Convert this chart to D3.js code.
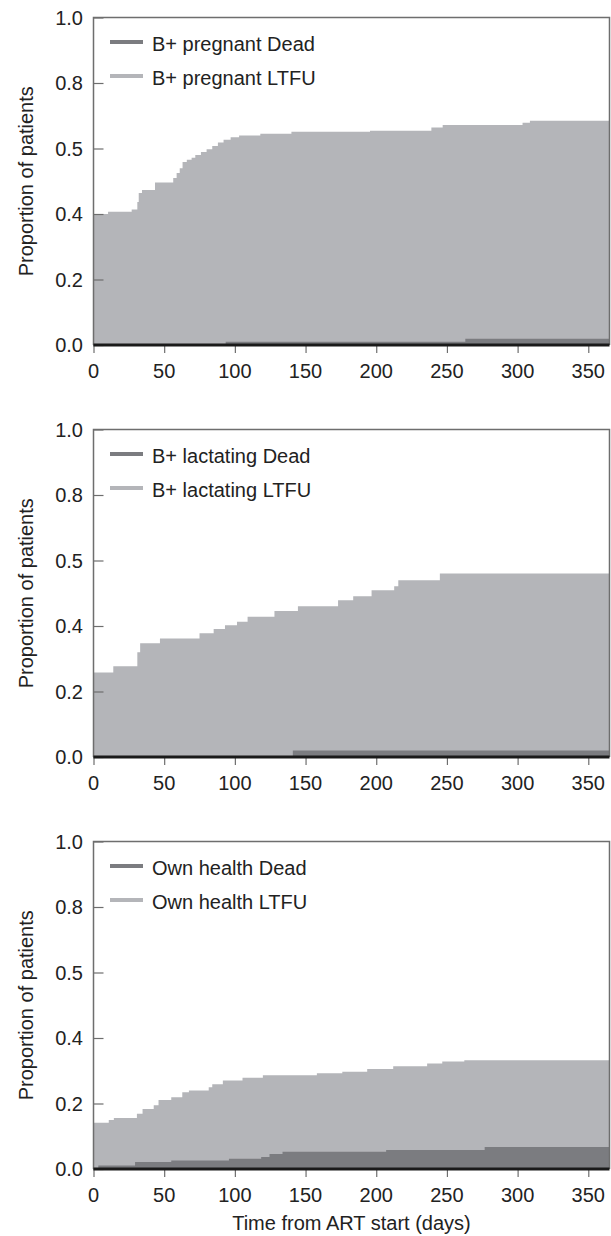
<!DOCTYPE html>
<html>
<head>
<meta charset="utf-8">
<script src="https://cdn.jsdelivr.net/npm/d3@7"></script>
<style>
  body { margin: 0; background: #fff; }
  text { font-family: "Liberation Sans", Arial, sans-serif; fill: #222; }
</style>
</head>
<body>
<svg id="chart" width="611" height="1236"></svg>
<script>
// step data: day where each step starts, cumulative value from that day on
const pregnantLtfuDays = [0, 10.3, 27, 31, 32, 34.3, 43.5, 56.4, 58.8, 61, 63, 66, 69.4, 72, 76, 80, 84, 88, 92, 97, 103, 118, 140, 195.6, 239, 247, 303.5, 308.7];
const pregnantLtfuVals = [0.400, 0.407, 0.414, 0.437, 0.464, 0.473, 0.496, 0.510, 0.525, 0.540, 0.559, 0.566, 0.572, 0.580, 0.589, 0.598, 0.608, 0.618, 0.627, 0.634, 0.640, 0.645, 0.651, 0.654, 0.664, 0.672, 0.679, 0.685];
const pregnantDeadDays = [0, 93.5, 263];
const pregnantDeadVals = [0, 0.010, 0.019];

const lactatingLtfuDays = [0, 14, 31, 33, 47, 75, 85, 93, 101.5, 109, 128, 144.6, 173, 183.7, 196.7, 212.7, 215.6, 245];
const lactatingLtfuVals = [0.258, 0.277, 0.320, 0.347, 0.362, 0.378, 0.391, 0.402, 0.413, 0.428, 0.446, 0.460, 0.479, 0.491, 0.509, 0.521, 0.540, 0.560];
const lactatingDeadDays = [0, 141];
const lactatingDeadVals = [0, 0.020];

const ownLtfuDays = [0, 10.8, 14.4, 30.7, 34.7, 42.6, 46, 55, 62.8, 67.5, 81.5, 84, 91.5, 105.4, 119.8, 158, 176, 193.6, 212, 236, 246.7, 262.3];
const ownLtfuVals = [0.141, 0.150, 0.156, 0.169, 0.183, 0.195, 0.211, 0.219, 0.234, 0.240, 0.250, 0.259, 0.270, 0.279, 0.286, 0.292, 0.297, 0.305, 0.314, 0.322, 0.328, 0.332];
const ownDeadDays = [0, 3.4, 29.4, 55, 95.8, 118.6, 124.5, 133.7, 207, 276.7];
const ownDeadVals = [0.003, 0.011, 0.021, 0.026, 0.031, 0.037, 0.046, 0.053, 0.058, 0.067];

const xTicks = [0, 50, 100, 150, 200, 250, 300, 350];
const yTicks = [0, 0.2, 0.4, 0.6, 0.8, 1.0];
const yTickLabels = ["0.0", "0.2", "0.4", "0.5", "0.8", "1.0"];

const panels = [
  {dead: "B+ pregnant Dead", ltfu: "B+ pregnant LTFU", ltfuDays: pregnantLtfuDays, ltfuVals: pregnantLtfuVals, deadDays: pregnantDeadDays, deadVals: pregnantDeadVals},
  {dead: "B+ lactating Dead", ltfu: "B+ lactating LTFU", ltfuDays: lactatingLtfuDays, ltfuVals: lactatingLtfuVals, deadDays: lactatingDeadDays, deadVals: lactatingDeadVals},
  {dead: "Own health Dead", ltfu: "Own health LTFU", ltfuDays: ownLtfuDays, ltfuVals: ownLtfuVals, deadDays: ownDeadDays, deadVals: ownDeadVals}
];

const ltfuColor = "#b4b5b9", deadColor = "#7b7c80", frameColor = "#6e6e6e";
const left = 93.5, right = 609.5, panelH = 327.5, panelTops = [17.5, 429.5, 841.5];
const maxDay = 365;

const svg = d3.select("#chart");
const x = d3.scaleLinear().domain([0, maxDay]).range([left, right]);

function steps(days, vals) {
    const pts = days.map((d, i) => ({day: d, v: vals[i]}));
    pts.push({day: maxDay, v: vals[vals.length - 1]});
    return pts;
}

panels.forEach((p, i) => {
    const top = panelTops[i];
    const y = d3.scaleLinear().domain([0, 1]).range([top + panelH, top]);
    const g = svg.append("g");

    const area = d3.area()
        .curve(d3.curveStepAfter)
        .x(d => x(d.day))
        .y0(y(0))
        .y1(d => y(d.v));

    g.append("path").datum(steps(p.ltfuDays, p.ltfuVals))
        .attr("d", area).attr("fill", ltfuColor);
    g.append("path").datum(steps(p.deadDays, p.deadVals))
        .attr("d", area).attr("fill", deadColor);

    // frame (left, top, right)
    g.append("path")
        .attr("d", `M${left},${y(0)}V${y(1)}H${right}V${y(0)}`)
        .attr("fill", "none").attr("stroke", frameColor).attr("stroke-width", 1.5);

    // y axis ticks (inward)
    const yAxis = g.append("g").attr("transform", `translate(${left},0)`)
        .call(d3.axisRight(y).tickValues(yTicks).tickSize(10).tickFormat(""));
    yAxis.select(".domain").remove();
    yAxis.selectAll("line").attr("stroke", frameColor).attr("stroke-width", 1.2);
    g.selectAll(".ylab").data(yTicks).join("text")
        .attr("x", 83).attr("y", d => y(d)).attr("dy", "0.36em")
        .attr("text-anchor", "end").attr("font-size", 20)
        .text((d, j) => yTickLabels[j]);

    // x axis ticks (outward)
    const xAxis = g.append("g").attr("transform", `translate(0,${y(0)})`)
        .call(d3.axisBottom(x).tickValues(xTicks).tickSize(8).tickFormat(""));
    xAxis.select(".domain").remove();
    xAxis.selectAll("line").attr("stroke", frameColor).attr("stroke-width", 1.2);
    g.selectAll(".xlab").data(xTicks).join("text")
        .attr("x", d => x(d)).attr("y", y(0) + 33)
        .attr("text-anchor", "middle").attr("font-size", 20)
        .text(d => d);

    // baseline
    g.append("line")
        .attr("x1", left).attr("x2", right)
        .attr("y1", y(0)).attr("y2", y(0))
        .attr("stroke", "#1a1a1a").attr("stroke-width", 3);

    // y title
    g.append("text")
        .attr("transform", `translate(33,${top + panelH / 2}) rotate(-90)`)
        .attr("text-anchor", "middle").attr("font-size", 20)
        .text("Proportion of patients");

    // legend
    const legend = [{label: p.dead, color: deadColor}, {label: p.ltfu, color: ltfuColor}];
    legend.forEach((l, j) => {
        const ly = top + 24.5 + j * 34;
        g.append("line").attr("x1", 110).attr("x2", 143).attr("y1", ly).attr("y2", ly)
            .attr("stroke", l.color).attr("stroke-width", 4);
        g.append("text").attr("x", 152).attr("y", ly + 9)
            .attr("font-size", 20).text(l.label);
    });
});

svg.append("text")
    .attr("x", (left + right) / 2).attr("y", 1230)
    .attr("text-anchor", "middle").attr("font-size", 20)
    .text("Time from ART start (days)");
</script>
</body>
</html>
